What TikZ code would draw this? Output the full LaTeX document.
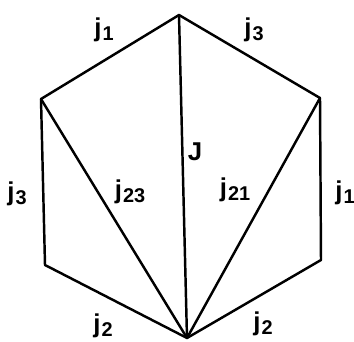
\documentclass[tikz,border=0pt]{standalone}
\usepackage{fontspec}
\setmainfont{Liberation Sans}
\usepackage{tikz}
\usetikzlibrary{positioning}
\tikzset{
  edge/.style={line width=2.1pt, line join=round, line cap=round},
  lbl/.style={font=\fontsize{22}{24}\selectfont\bfseries, inner sep=0pt}
}
\newcommand{\jsub}[1]{j\kern1pt\raisebox{-0.3ex}{\fontsize{17}{19}\selectfont\bfseries #1}}

\begin{document}
\begin{tikzpicture}[x=0.03cm, y=-0.03cm]
    \useasboundingbox (0,0) rectangle (354,342);
    % vertices
    \coordinate (top) at (179,15);
    \coordinate (ul) at (41,99);
    \coordinate (ll) at (45,265);
    \coordinate (bot) at (187,338);
    \coordinate (lr) at (321,260);
    \coordinate (ur) at (320,98);
    % hexagon
    \draw[edge] (top) -- (ul) -- (ll) -- (bot) -- (lr) -- (ur) -- cycle;
    % diagonals
    \draw[edge] (bot) -- (top);
    \draw[edge] (bot) -- (ul);
    \draw[edge] (bot) -- (ur);
    % labels
    \node[lbl] (l1) at (104,30) {\jsub{1}};
    \node[lbl] (l3) at (254,30) {\jsub{3}};
    \node[lbl] (l3b) at (17,194) {\jsub{3}};
    \node[lbl] (r1) at (345,193) {\jsub{1}};
    \node[lbl] (lJ) at (195,152) {J};
    \node[lbl] (l23) at (130,192) {\jsub{23}};
    \node[lbl] (l21) at (235,190) {\jsub{21}};
    \node[lbl] (b2) at (103,326) {\jsub{2}};
    \node[lbl] (c2) at (263,324) {\jsub{2}};
\end{tikzpicture}
\end{document}
